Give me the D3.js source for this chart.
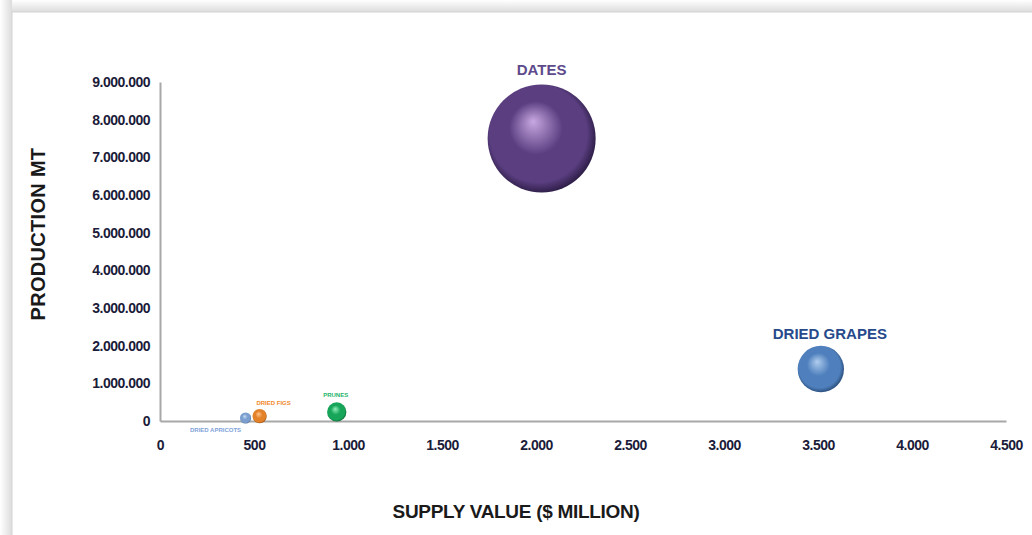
<!DOCTYPE html>
<html><head><meta charset="utf-8">
<script src="https://cdn.jsdelivr.net/npm/d3@7"></script>
<style>
html,body{margin:0;padding:0;background:#fff;}
svg{display:block;}
text{font-family:"Liberation Sans",Arial,sans-serif;}
</style></head><body>
<svg id="c" width="1032" height="535"></svg>
<script>
const names = ["DATES","DRIED GRAPES","PRUNES","DRIED FIGS","DRIED APRICOTS"];
const supplyValue = [2030, 3515, 940, 530, 455];
const production = [7500000, 1380000, 240000, 130000, 80000];
const bubbleSize = [7500000, 1380000, 240000, 130000, 80000];
const baseColors = ["#5a3e80","#4f80bd","#17a55a","#e4822a","#7a9fcf"];
const lightColors = ["#c8a8e2","#b0cdee","#8ff0b8","#ffc890","#c8dcf4"];
const darkColors = ["#24163a","#22446e","#0a5a2c","#8a4a10","#3a5a88"];
const labelColors = ["#5d4a8c","#264a8c","#1db36a","#f0872a","#7ea2da"];
const xTicks = [0,500,1000,1500,2000,2500,3000,3500,4000,4500];
const yTicks = [0,1000000,2000000,3000000,4000000,5000000,6000000,7000000,8000000,9000000];
const xTitle = "SUPPLY VALUE ($ MILLION)";
const yTitle = "PRODUCTION MT";

const svg = d3.select("#c");
const defs = svg.append("defs");

const sh = defs.append("linearGradient").attr("id","shTop").attr("x1",0).attr("y1",0).attr("x2",0).attr("y2",1);
sh.append("stop").attr("offset",0).attr("stop-color","#ffffff");
sh.append("stop").attr("offset",1).attr("stop-color","#dcdcdc");
const shl = defs.append("linearGradient").attr("id","shLeft").attr("x1",0).attr("y1",0).attr("x2",1).attr("y2",0);
shl.append("stop").attr("offset",0).attr("stop-color","#ffffff");
shl.append("stop").attr("offset",1).attr("stop-color","#dcdcdc");
svg.append("rect").attr("x",0).attr("y",0).attr("width",1032).attr("height",12).attr("fill","url(#shTop)");
svg.append("rect").attr("x",0).attr("y",0).attr("width",12).attr("height",535).attr("fill","url(#shLeft)");
svg.append("rect").attr("x",12).attr("y",12).attr("width",1030).attr("height",530).attr("fill","#fff").attr("stroke","#d4d4d4").attr("stroke-width",1);

const x = d3.scaleLinear().domain([0,4500]).range([160,1006]);
const y = d3.scaleLinear().domain([0,9000000]).range([421,82]);
const r = d3.scaleSqrt().domain([0,d3.max(bubbleSize)]).range([0,54]);

const fmt = v => d3.format(",")(v).replace(/,/g,".");

const xAxis = svg.append("g").attr("transform","translate(0,421)")
  .call(d3.axisBottom(x).tickValues(xTicks).tickFormat(fmt).tickSize(0).tickPadding(19));
const yAxis = svg.append("g").attr("transform","translate(160,0)")
  .call(d3.axisLeft(y).tickValues(yTicks).tickFormat(fmt).tickSize(0).tickPadding(10));
[xAxis,yAxis].forEach(g=>{
  g.select(".domain").attr("stroke","#a8a8a8").attr("stroke-width",2);
  g.selectAll("text").attr("font-size",14).attr("font-weight","bold").attr("fill","#1b1b3a")
    .attr("font-family","'Liberation Sans',Arial,sans-serif").attr("letter-spacing","-0.5");
});

svg.append("text").attr("x",516).attr("y",518).attr("text-anchor","middle")
  .attr("font-size",19).attr("font-weight","bold").attr("fill","#1a1a1a").attr("letter-spacing","-0.3").text(xTitle);
svg.append("text").attr("transform","translate(45,234) rotate(-90)").attr("text-anchor","middle")
  .attr("font-size",20).attr("font-weight","bold").attr("fill","#1a1a1a").attr("letter-spacing","0.3").text(yTitle);

names.forEach((n,i)=>{
  const g = defs.append("radialGradient").attr("id","g"+i)
    .attr("cx","48%").attr("cy","48%").attr("r","55%").attr("fx","42%").attr("fy","34%");
  g.append("stop").attr("offset","0%").attr("stop-color",lightColors[i]);
  g.append("stop").attr("offset","45%").attr("stop-color",baseColors[i]);
  g.append("stop").attr("offset","82%").attr("stop-color",baseColors[i]);
  g.append("stop").attr("offset","100%").attr("stop-color",darkColors[i]);
});

const data = names.map((n,i)=>({n,i,sx:supplyValue[i],p:production[i],s:bubbleSize[i]}));
svg.append("g").selectAll("circle").data(data).join("circle")
  .attr("cx",d=>x(d.sx)).attr("cy",d=>y(d.p)).attr("r",d=>r(d.s))
  .attr("fill",d=>"url(#g"+d.i+")");

const labelPos = [
  {dx:0, dy:-64, size:15},
  {dx:9, dy:-30, size:15},
  {dx:-1, dy:-15, size:6},
  {dx:14, dy:-11, size:6},
  {dx:-30, dy:14, size:6}
];
svg.append("g").selectAll("text").data(data).join("text")
  .attr("x",d=>x(d.sx)+labelPos[d.i].dx)
  .attr("y",d=>y(d.p)+labelPos[d.i].dy)
  .attr("text-anchor","middle")
  .attr("font-size",d=>labelPos[d.i].size)
  .attr("font-weight","bold")
  .attr("fill",d=>labelColors[d.i])
  .text(d=>d.n);
</script>
</body></html>
